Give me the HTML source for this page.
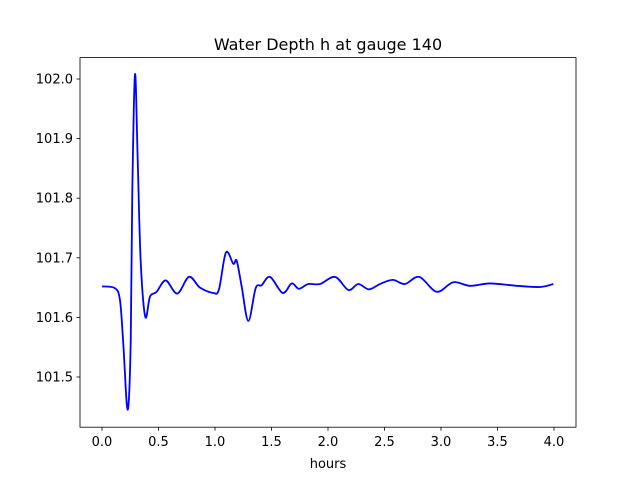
<!DOCTYPE html>
<html><head><meta charset="utf-8"><style>
body{margin:0;background:#fff;font-family:"Liberation Sans","DejaVu Sans",sans-serif}
svg text{font-family:"DejaVu Sans","Liberation Sans",sans-serif;font-size:13px}
</style></head><body>
<svg id="chart" width="640" height="480" xmlns="http://www.w3.org/2000/svg">
<rect width="640" height="480" fill="#fff"/>
<text x="328" y="50" text-anchor="middle" style="font-size:16px">Water Depth h at gauge 140</text>
<text x="328" y="468" text-anchor="middle">hours</text>
<g id="ticks"></g>
<path id="line" fill="none" stroke="#0000ff" stroke-width="1.8"/>
<rect x="80" y="57.6" width="496" height="369.6" fill="none" stroke="#000" stroke-width="0.8"/>
</svg>
<script>
const hours=[0.0,0.115,0.159,0.188,0.227,0.254,0.268,0.292,0.316,0.342,0.383,0.425,0.484,0.564,0.666,0.770,0.867,0.985,1.035,1.097,1.162,1.192,1.236,1.295,1.360,1.413,1.487,1.599,1.679,1.743,1.826,1.929,2.062,2.180,2.268,2.363,2.460,2.573,2.681,2.808,2.962,3.109,3.257,3.434,3.670,3.876,3.994];
const depth=[101.652,101.649,101.629,101.557,101.445,101.557,101.809,102.008,101.864,101.696,101.601,101.635,101.643,101.662,101.640,101.668,101.650,101.641,101.647,101.709,101.690,101.695,101.652,101.594,101.649,101.654,101.668,101.641,101.657,101.648,101.656,101.656,101.668,101.646,101.656,101.647,101.656,101.663,101.656,101.668,101.643,101.659,101.653,101.657,101.653,101.651,101.656];
const xTicks=[0.0,0.5,1.0,1.5,2.0,2.5,3.0,3.5,4.0];
const yTicks=[101.5,101.6,101.7,101.8,101.9,102.0];
const X=h=>102+h*113;
const Y=v=>79+(102.0-v)*596;
const g=document.getElementById('ticks');
const NS='http://www.w3.org/2000/svg';
xTicks.forEach(t=>{
 const l=document.createElementNS(NS,'line');
 
 
 l.setAttribute('x1',X(t));l.setAttribute('x2',X(t));l.setAttribute('y1',427.2);l.setAttribute('y2',430.7);l.setAttribute('stroke','#000');l.setAttribute('stroke-width','0.8');g.appendChild(l);
 const tx=document.createElementNS(NS,'text');
 
 
 tx.setAttribute('x',X(t));tx.setAttribute('y',446);tx.setAttribute('text-anchor','middle');tx.textContent=t.toFixed(1);g.appendChild(tx);
});
yTicks.forEach(t=>{
 const l=document.createElementNS(NS,'line');
 
 
 l.setAttribute('x1',76.5);l.setAttribute('x2',80);l.setAttribute('y1',Y(t));l.setAttribute('y2',Y(t));l.setAttribute('stroke','#000');l.setAttribute('stroke-width','0.8');g.appendChild(l);
 const tx=document.createElementNS(NS,'text');
 
 
 tx.setAttribute('x',73);tx.setAttribute('y',Y(t)+4.5);tx.setAttribute('text-anchor','end');tx.textContent=t.toFixed(1);g.appendChild(tx);
});
const P=hours.map((h,i)=>[X(h),Y(depth[i])]);
let d='M'+P[0][0]+','+P[0][1];
for(let i=0;i<P.length-1;i++){
 const p0=P[Math.max(0,i-1)],p1=P[i],p2=P[i+1],p3=P[Math.min(P.length-1,i+2)];
 const c1=[p1[0]+(p2[0]-p0[0])/6,p1[1]+(p2[1]-p0[1])/6];
 const c2=[p2[0]-(p3[0]-p1[0])/6,p2[1]-(p3[1]-p1[1])/6];
 d+=' C'+c1[0]+','+c1[1]+' '+c2[0]+','+c2[1]+' '+p2[0]+','+p2[1];
}
document.getElementById('line').setAttribute('d',d);
</script>
</body></html>
